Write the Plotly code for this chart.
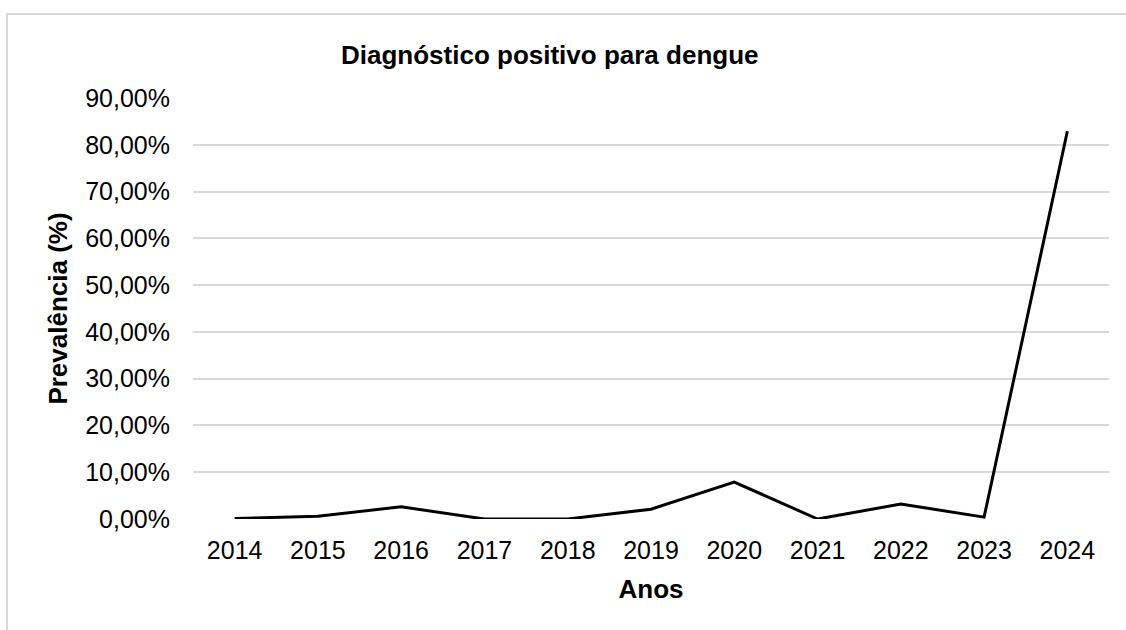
import plotly.graph_objects as go

anos = ["2014", "2015", "2016", "2017", "2018", "2019", "2020", "2021", "2022", "2023", "2024"]
prevalencia = [0.001, 0.006, 0.026, 0.0, 0.0, 0.021, 0.079, 0.0, 0.032, 0.004, 0.829]
y_ticks = [0, 0.1, 0.2, 0.3, 0.4, 0.5, 0.6, 0.7, 0.8, 0.9]

FONT = "Liberation Sans, Arial, sans-serif"

fig = go.Figure()
fig.add_trace(go.Scatter(
    x=anos, y=prevalencia, mode="lines",
    line=dict(color="#000000", width=3),
    showlegend=False, hoverinfo="x+y",
))

L, R, T, B = 193, 17, 98, 111
W, H = 1126, 630
pw, ph = W - L - R, H - T - B

def px(xp):
    return (xp - L) / pw

def py(yp):
    return (H - B - yp) / ph

fig.update_layout(
    width=W, height=H,
    margin=dict(l=L, r=R, t=T, b=B),
    paper_bgcolor="white", plot_bgcolor="white",
    separators=",.",
    font=dict(family=FONT, color="#000000", size=26),
    xaxis=dict(
        type="category", range=[-0.5, 10.5],
        showgrid=False, zeroline=False, showline=False,
        ticks="", ticklabelstandoff=14,
        tickfont=dict(size=25, color="#000000"),
        title=dict(text="<b>Anos</b>", font=dict(size=26), standoff=16),
    ),
    yaxis=dict(
        range=[0, 0.9], tickvals=y_ticks, tickformat=".2%",
        showgrid=True, gridcolor="#d9d9d9", gridwidth=2,
        zeroline=False, showline=False, ticks="",
        ticklabelstandoff=22,
        tickfont=dict(size=25, color="#000000"),
        title=dict(text="<b>Prevalência (%)</b>", font=dict(size=26), standoff=10),
    ),
    shapes=[dict(
        type="rect", xref="paper", yref="paper",
        x0=px(7), x1=px(1140), y0=py(645), y1=py(14),
        line=dict(color="#d9d9d9", width=2), fillcolor="rgba(0,0,0,0)", layer="below",
    )],
    annotations=[dict(
        text="<b>Diagnóstico positivo para dengue</b>",
        xref="paper", yref="paper", x=px(550), y=py(55),
        xanchor="center", yanchor="middle", showarrow=False,
        font=dict(size=26, color="#000000", family=FONT),
    )],
)

fig.write_html(
    "out.html",
    config={"displayModeBar": False},
    post_script="document.body.style.margin='0';",
)
